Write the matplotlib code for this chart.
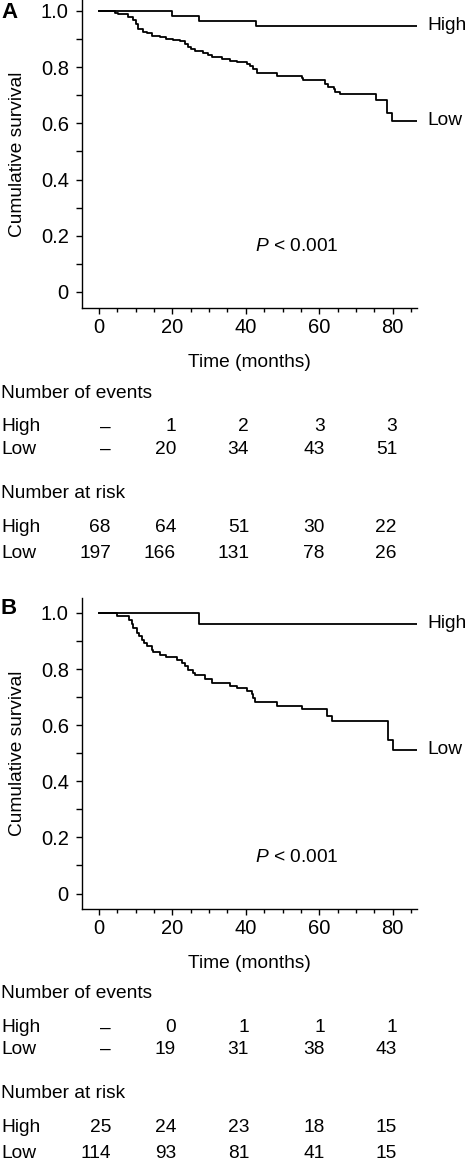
import matplotlib
matplotlib.use('Agg')
import matplotlib.pyplot as plt
from matplotlib.ticker import MultipleLocator, FixedFormatter, FixedLocator

plt.rcParams['font.family'] = ['Liberation Sans', 'DejaVu Sans']
plt.rcParams['mathtext.fontset'] = 'custom'
plt.rcParams['mathtext.it'] = 'Liberation Sans:italic'
plt.rcParams['mathtext.rm'] = 'Liberation Sans'

# --- panel A curves (months, survival) ---
a_high_t = [0, 19.8, 27.2, 42.9]
a_high_s = [1.0, 0.983, 0.964, 0.948]
a_low_t = [0, 4.4, 5.3, 8.0, 9.4, 10.0, 10.7, 12.0, 13.0, 14.4, 16.6, 18.4, 20.2,
           22.0, 23.4, 24.3, 25.2, 26.2, 28.4, 29.8, 30.7, 33.4, 35.7, 37.5,
           40.2, 41.1, 42.0, 43.0, 48.4, 55.2, 55.7, 61.6, 62.5, 63.9, 64.3,
           65.7, 75.5, 78.5, 79.8]
a_low_s = [1.0, 0.994, 0.988, 0.98, 0.968, 0.952, 0.935, 0.925, 0.92, 0.912,
           0.906, 0.90, 0.897, 0.892, 0.883, 0.873, 0.866, 0.858, 0.849, 0.842,
           0.836, 0.828, 0.822, 0.817, 0.811, 0.804, 0.792, 0.781, 0.769, 0.761,
           0.753, 0.741, 0.731, 0.721, 0.713, 0.703, 0.683, 0.636, 0.61]

# --- panel B curves ---
b_high_t = [0, 27.2]
b_high_s = [1.0, 0.961]
b_low_t = [0, 4.8, 8.3, 8.9, 9.4, 10.3, 11.0, 11.6, 12.3, 13.0, 14.4, 14.8, 16.6,
           18.4, 21.2, 22.5, 23.4, 24.3, 25.7, 26.2, 28.9, 30.7, 35.7, 37.5,
           40.2, 41.6, 42.0, 42.5, 48.4, 55.2, 62.0, 63.4, 78.6, 80.0]
b_low_s = [1.0, 0.989, 0.975, 0.961, 0.945, 0.93, 0.916, 0.904, 0.894, 0.882,
           0.868, 0.859, 0.85, 0.842, 0.833, 0.823, 0.809, 0.797, 0.785, 0.78,
           0.764, 0.75, 0.738, 0.734, 0.72, 0.711, 0.696, 0.681, 0.669, 0.658,
           0.633, 0.616, 0.548, 0.512]

t_end = 86.6

# --- tables ---
a_events_high = ['–', '1', '2', '3', '3']
a_events_low = ['–', '20', '34', '43', '51']
a_risk_high = ['68', '64', '51', '30', '22']
a_risk_low = ['197', '166', '131', '78', '26']

b_events_high = ['–', '0', '1', '1', '1']
b_events_low = ['–', '19', '31', '38', '43']
b_risk_high = ['25', '24', '23', '18', '15']
b_risk_low = ['114', '93', '81', '41', '15']

W, H = 470, 1165
col_x = [111, 176, 249, 325, 397]   # right edges of table columns (px)
FS = 13.8


def fx(px):
    return px / W


def fy(py):
    return 1 - py / H


def km_panel(ax, high_t, high_s, low_t, low_s, ylim, p_y):
    for t, s in ((high_t, high_s), (low_t, low_s)):
        ax.step(list(t) + [t_end], list(s) + [s[-1]], where='post',
                color='black', lw=1.3)
    ax.set_xlim(-4.6, t_end)
    ax.set_ylim(*ylim)
    for side in ('top', 'right'):
        ax.spines[side].set_visible(False)
    for side in ('left', 'bottom'):
        ax.spines[side].set_linewidth(1.0)
    ax.xaxis.set_major_locator(FixedLocator([0, 20, 40, 60, 80]))
    ax.xaxis.set_minor_locator(MultipleLocator(5))
    ax.yaxis.set_major_locator(FixedLocator([0, 0.2, 0.4, 0.6, 0.8, 1.0]))
    ax.yaxis.set_major_formatter(FixedFormatter(['0', '0.2', '0.4', '0.6', '0.8', '1.0']))
    ax.yaxis.set_minor_locator(FixedLocator([0.1, 0.3, 0.5, 0.7, 0.9]))
    ax.tick_params(which='major', length=4.5, width=1.0, labelsize=FS + 0.7, pad=3)
    ax.tick_params(axis='y', which='major', pad=5)
    ax.tick_params(which='minor', length=3, width=1.0)
    ax.tick_params(axis='y', which='minor', length=4.5)
    ax.set_xlabel('Time (months)', fontsize=FS, labelpad=12)
    ax.set_ylabel('Cumulative survival', fontsize=FS, labelpad=11)
    ax.text(89.5, high_s[-1], 'High', fontsize=FS, va='center', clip_on=False)
    ax.text(89.5, low_s[-1], 'Low', fontsize=FS, va='center', clip_on=False)
    ax.text(42.4, p_y, r'$\it{P}$ < 0.001', fontsize=FS, va='center')


def table(fig, rows_y, ev_h, ev_l, rk_h, rk_l):
    fig.text(fx(1), fy(rows_y[0]), 'Number of events', fontsize=FS, va='center')
    fig.text(fx(1), fy(rows_y[3]), 'Number at risk', fontsize=FS, va='center')
    for yy, name, vals in ((rows_y[1], 'High', ev_h), (rows_y[2], 'Low', ev_l),
                           (rows_y[4], 'High', rk_h), (rows_y[5], 'Low', rk_l)):
        fig.text(fx(1), fy(yy), name, fontsize=FS, va='center')
        for cx, v in zip(col_x, vals):
            fig.text(fx(cx), fy(yy), v, fontsize=FS, va='center', ha='right')


fig = plt.figure(figsize=(W / 100, H / 100), dpi=100)

axA = fig.add_axes([fx(82), fy(308), fx(417 - 82), 308 / H])
km_panel(axA, a_high_t, a_high_s, a_low_t, a_low_s, (-0.057, 1.039), 0.162)
fig.text(fx(1), fy(12), 'A', fontsize=16, fontweight='bold', va='center')
table(fig, [393, 427, 449, 493, 527, 553],
      a_events_high, a_events_low, a_risk_high, a_risk_low)

axB = fig.add_axes([fx(82), fy(909), fx(417 - 82), (909 - 598) / H])
km_panel(axB, b_high_t, b_high_s, b_low_t, b_low_s, (-0.055, 1.053), 0.13)
fig.text(fx(1), fy(608), 'B', fontsize=16, fontweight='bold', va='center')
table(fig, [994, 1028, 1049, 1093, 1128, 1153],
      b_events_high, b_events_low, b_risk_high, b_risk_low)

fig.savefig('out.png', dpi=100)
